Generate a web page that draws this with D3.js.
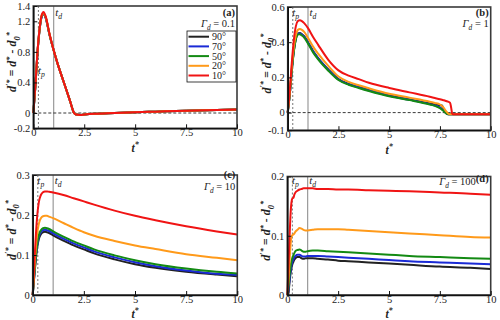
<!DOCTYPE html>
<html>
<head>
<meta charset="utf-8">
<script src="https://cdn.jsdelivr.net/npm/d3@7"></script>
<style>
body { margin: 0; background: #fff; }
svg text { font-family: "Liberation Serif", "DejaVu Serif", serif; fill: #222; }
</style>
</head>
<body>
<div id="chart"></div>
<script>
// series order: 90, 70, 50, 20, 10 degrees
var angleLabels = ["90°", "70°", "50°", "20°", "10°"];
var colors = ["#222222", "#1a2ad6", "#138a13", "#ff9a1a", "#f01414"];
var xTicks = [0, 2.5, 5, 7.5, 10];

// panel (a), Gamma_d = 0.1
var tA = [0, 0.1, 0.2, 0.3, 0.4, 0.5, 0.6, 0.8, 1.0, 1.2, 1.4, 1.6, 1.8, 2.0, 2.1, 2.3, 2.5, 3, 4, 5, 6, 7.5, 9, 10];
var a90 = [0, 0.34, 0.77, 1.07, 1.25, 1.30, 1.25, 1.02, 0.82, 0.64, 0.48, 0.32, 0.16, 0.0, -0.02, -0.025, -0.02, -0.01, 0.0, 0.01, 0.018, 0.03, 0.04, 0.045];
var a70 = [0, 0.34, 0.77, 1.07, 1.25, 1.30, 1.25, 1.02, 0.82, 0.64, 0.48, 0.32, 0.16, 0.0, -0.02, -0.025, -0.02, -0.01, 0.0, 0.01, 0.018, 0.03, 0.04, 0.045];
var a50 = [0, 0.34, 0.77, 1.07, 1.26, 1.30, 1.26, 1.02, 0.82, 0.64, 0.48, 0.32, 0.16, 0.0, -0.02, -0.025, -0.02, -0.01, 0.0, 0.01, 0.018, 0.03, 0.04, 0.045];
var a20 = [0, 0.35, 0.78, 1.08, 1.27, 1.31, 1.26, 1.03, 0.82, 0.64, 0.48, 0.32, 0.16, 0.0, -0.02, -0.025, -0.02, -0.01, 0.0, 0.01, 0.018, 0.03, 0.04, 0.045];
var a10 = [0, 0.35, 0.78, 1.08, 1.27, 1.32, 1.27, 1.03, 0.82, 0.64, 0.48, 0.32, 0.16, 0.0, -0.02, -0.025, -0.02, -0.01, 0.0, 0.01, 0.018, 0.03, 0.04, 0.045];
var yTicksA = [-0.2, 0, 0.4, 0.8, 1.2, 1.4];

// panel (b), Gamma_d = 1
var tB = [0, 0.1, 0.2, 0.3, 0.4, 0.5, 0.6, 0.7, 0.8, 1.0, 1.25, 1.5, 2, 2.5, 3, 3.5, 4, 5, 6, 7, 7.25, 7.5, 7.6, 7.7, 7.8, 7.9, 8.0, 8.05, 8.1, 8.15, 8.5, 10];
var b90 = [0, 0.10, 0.24, 0.35, 0.42, 0.45, 0.452, 0.445, 0.435, 0.40, 0.35, 0.31, 0.245, 0.19, 0.163, 0.145, 0.128, 0.097, 0.075, 0.052, 0.046, 0.042, 0.04, 0.012, -0.004, -0.01, -0.01, -0.01, -0.01, -0.01, -0.01, -0.01];
var b70 = [0, 0.10, 0.24, 0.35, 0.42, 0.448, 0.45, 0.443, 0.433, 0.398, 0.348, 0.308, 0.243, 0.188, 0.161, 0.143, 0.126, 0.095, 0.073, 0.048, 0.04, 0.03, 0.022, 0.01, 0.0, -0.008, -0.01, -0.01, -0.01, -0.01, -0.01, -0.01];
var b50 = [0, 0.10, 0.235, 0.345, 0.415, 0.443, 0.445, 0.438, 0.428, 0.392, 0.342, 0.302, 0.238, 0.185, 0.158, 0.14, 0.123, 0.093, 0.071, 0.046, 0.038, 0.025, 0.017, 0.007, -0.003, -0.009, -0.01, -0.01, -0.01, -0.01, -0.01, -0.01];
var b20 = [0, 0.11, 0.26, 0.37, 0.44, 0.47, 0.475, 0.47, 0.46, 0.425, 0.375, 0.335, 0.265, 0.205, 0.175, 0.155, 0.138, 0.107, 0.085, 0.062, 0.055, 0.046, 0.038, 0.025, 0.008, -0.005, -0.01, -0.01, -0.01, -0.01, -0.01, -0.01];
var b10 = [0, 0.12, 0.28, 0.41, 0.49, 0.52, 0.525, 0.52, 0.51, 0.48, 0.43, 0.385, 0.30, 0.24, 0.21, 0.19, 0.17, 0.14, 0.115, 0.09, 0.083, 0.076, 0.073, 0.07, 0.066, 0.062, 0.055, 0.03, -0.005, -0.01, -0.01, -0.01];
var yTicksB = [-0.1, 0, 0.2, 0.4, 0.6];

// panel (c), Gamma_d = 10
var tC = [0, 0.1, 0.2, 0.3, 0.4, 0.5, 0.6, 0.7, 0.8, 1.0, 1.5, 2, 2.5, 3, 4, 5, 6, 7.5, 9, 10];
var c90 = [0, 0.06, 0.112, 0.14, 0.152, 0.157, 0.158, 0.157, 0.155, 0.149, 0.136, 0.124, 0.114, 0.104, 0.089, 0.077, 0.068, 0.058, 0.051, 0.047];
var c70 = [0, 0.063, 0.116, 0.145, 0.157, 0.162, 0.163, 0.162, 0.16, 0.154, 0.141, 0.129, 0.119, 0.109, 0.094, 0.082, 0.072, 0.061, 0.053, 0.05];
var c50 = [0, 0.065, 0.12, 0.15, 0.162, 0.167, 0.168, 0.167, 0.165, 0.159, 0.146, 0.134, 0.124, 0.114, 0.099, 0.087, 0.077, 0.066, 0.058, 0.054];
var c20 = [0, 0.08, 0.145, 0.178, 0.192, 0.197, 0.198, 0.198, 0.196, 0.192, 0.18, 0.168, 0.157, 0.148, 0.135, 0.124, 0.115, 0.102, 0.093, 0.087];
var c10 = [0, 0.10, 0.185, 0.232, 0.25, 0.257, 0.259, 0.259, 0.258, 0.256, 0.25, 0.242, 0.234, 0.226, 0.211, 0.198, 0.187, 0.172, 0.159, 0.151];
var yTicksC = [0, 0.1, 0.2, 0.3];

// panel (d), Gamma_d = 100
var tD = [0, 0.05, 0.1, 0.15, 0.2, 0.25, 0.3, 0.35, 0.4, 0.5, 0.6, 0.7, 0.8, 0.9, 1.0, 1.25, 1.5, 2, 2.5, 3, 4, 5, 6, 7.5, 9, 10];
var d90 = [0, 0.0, 0.018, 0.034, 0.045, 0.052, 0.056, 0.06, 0.062, 0.064, 0.064, 0.062, 0.061, 0.062, 0.062, 0.062, 0.061, 0.06, 0.058, 0.057, 0.055, 0.053, 0.051, 0.048, 0.046, 0.044];
var d70 = [0, 0.005, 0.022, 0.038, 0.049, 0.056, 0.06, 0.064, 0.066, 0.068, 0.068, 0.066, 0.065, 0.065, 0.066, 0.066, 0.066, 0.065, 0.064, 0.063, 0.061, 0.059, 0.057, 0.055, 0.053, 0.052];
var d50 = [0, 0.01, 0.03, 0.045, 0.056, 0.063, 0.067, 0.071, 0.074, 0.076, 0.077, 0.075, 0.073, 0.073, 0.074, 0.075, 0.075, 0.074, 0.073, 0.072, 0.07, 0.068, 0.066, 0.064, 0.062, 0.061];
var d20 = [0, 0.02, 0.05, 0.08, 0.098, 0.101, 0.102, 0.104, 0.107, 0.11, 0.113, 0.112, 0.11, 0.109, 0.109, 0.11, 0.111, 0.111, 0.111, 0.11, 0.108, 0.106, 0.104, 0.101, 0.098, 0.097];
var d10 = [0, 0.04, 0.09, 0.13, 0.155, 0.163, 0.164, 0.17, 0.173, 0.176, 0.178, 0.179, 0.18, 0.18, 0.18, 0.18, 0.179, 0.179, 0.178, 0.178, 0.177, 0.176, 0.175, 0.173, 0.171, 0.169];
var yTicksD = [0, 0.1, 0.2];

var tp = 0.25, td = 1;

var svg = d3.select("#chart").append("svg")
    .attr("width", 500)
    .attr("height", 320)
    .attr("font-family", "Liberation Serif");

svg.append("rect").attr("width", 500).attr("height", 320).attr("fill", "#fff");

// write text with super/subscripts: parts = [str, pos(1 sup, -1 sub, 0 normal), italic]
function rich(txt, parts, fs) {
    var shift = 0;
    parts.forEach(function(p) {
        var target = p[1] == 1 ? -fs * 0.4 : p[1] == -1 ? fs * 0.3 : 0;
        txt.append("tspan")
            .attr("dy", target - shift)
            .attr("font-size", p[1] ? fs * 0.7 : fs)
            .attr("font-style", p[2] ? "italic" : "normal")
            .text(p[0]);
        shift = target;
    });
}

// layout of the four panels (pixel boxes) and where their labels sit
var panels = [
    { tag: "(a)", gam: "0.1", x0: 33.3, x1: 237, y0: 6, y1: 128.3, dom: [-0.2, 1.4], ticks: yTicksA,
      t: tA, s: [a90, a70, a50, a20, a10], zero: true, legend: true, tpY: 74, tdY: 16, lblY: 15.5, gamY: 26.5, xlabY: 152 },
    { tag: "(b)", gam: "1", x0: 287.7, x1: 490.7, y0: 7, y1: 130.2, dom: [-0.1, 0.6], ticks: yTicksB,
      t: tB, s: [b90, b70, b50, b20, b10], zero: true, tpY: 16, tdY: 16, lblY: 15.5, gamY: 27, xlabY: 154 },
    { tag: "(c)", gam: "10", x0: 32.7, x1: 237.3, y0: 175, y1: 295, dom: [0, 0.3], ticks: yTicksC,
      t: tC, s: [c90, c70, c50, c20, c10], tpY: 184, tdY: 184, lblY: 178, gamY: 190, xlabY: 317.5 },
    { tag: "(d)", gam: "100", x0: 287.3, x1: 490.7, y0: 176.5, y1: 295, dom: [0, 0.2], ticks: yTicksD,
      t: tD, s: [d90, d70, d50, d20, d10], tpY: 184, tdY: 184, lblY: 185, xlabY: 317.5, inline: true }
];

panels.forEach(function(p) {
    var x = d3.scaleLinear().domain([0, 10]).range([p.x0, p.x1]);
    var y = d3.scaleLinear().domain(p.dom).range([p.y1, p.y0]);
    var g = svg.append("g");

    //reference lines
    g.append("line")
        .attr("x1", x(td)).attr("x2", x(td))
        .attr("y1", p.y0).attr("y2", p.y1)
        .attr("stroke", "#9a9a9a").attr("stroke-width", 1.2);
    g.append("line")
        .attr("x1", x(tp)).attr("x2", x(tp))
        .attr("y1", p.y0).attr("y2", p.y1)
        .attr("stroke", "#777").attr("stroke-width", 1)
        .attr("stroke-dasharray", "2,2");
    if (p.zero) {
        g.append("line")
            .attr("x1", p.x0).attr("x2", p.x1)
            .attr("y1", y(0)).attr("y2", y(0))
            .attr("stroke", "#222").attr("stroke-width", 0.9)
            .attr("stroke-dasharray", "3,2");
    }

    var line = d3.line()
        .x(function(d) { return x(d[0]); })
        .y(function(d) { return y(d[1]); })
        .curve(d3.curveMonotoneX);

    p.s.forEach(function(vals, i) {
        g.append("path")
            .datum(p.t.map(function(t, k) { return [t, vals[k]]; }))
            .attr("d", line)
            .attr("fill", "none")
            .attr("stroke", colors[i])
            .attr("stroke-width", 2);
    });

    //frame
    g.append("rect")
        .attr("x", p.x0).attr("y", p.y0)
        .attr("width", p.x1 - p.x0).attr("height", p.y1 - p.y0)
        .attr("fill", "none").attr("stroke", "#3a3a3a").attr("stroke-width", 1.6);

    var fmt = function(d) { return String(d); };
    var ax = g.append("g")
        .attr("transform", "translate(0," + p.y1 + ")")
        .call(d3.axisBottom(x).tickValues(xTicks).tickFormat(fmt).tickSizeInner(-4).tickSizeOuter(0).tickPadding(0.5));
    var ay = g.append("g")
        .attr("transform", "translate(" + p.x0 + ",0)")
        .call(d3.axisLeft(y).tickValues(p.ticks).tickFormat(fmt).tickSizeInner(-4).tickSizeOuter(0).tickPadding(3));
    [ax, ay].forEach(function(a) {
        a.attr("font-family", "Liberation Serif");
        a.select(".domain").attr("stroke", "#111").attr("stroke-width", 1.6);
        a.selectAll(".tick line").attr("stroke", "#111");
        a.selectAll("text").attr("font-size", 10.5).attr("fill", "#222");
    });

    //axis titles
    var cx = (p.x0 + p.x1) / 2;
    var xt = g.append("text")
        .attr("x", cx).attr("y", p.xlabY)
        .attr("text-anchor", "middle")
        .attr("font-weight", "bold");
    rich(xt, [["t", 0, 1], ["*", 1, 1]], 11.5);

    var cy = (p.y0 + p.y1) / 2 - 5;
    var yt = g.append("text")
        .attr("transform", "translate(" + (p.x0 - 17) + "," + cy + ") rotate(-90)")
        .attr("text-anchor", "middle")
        .attr("font-weight", "bold");
    rich(yt, [["d", 0, 1], ["′*", 1, 1], [" = d", 0, 1], ["*", 1, 1], [" - d", 0, 1], ["0", -1, 1], ["*", 1, 1]], 12);

    //tp and td labels
    var tpl = g.append("text").attr("x", x(tp) - 0.5).attr("y", p.tpY).attr("fill", "#444");
    rich(tpl, [["t", 0, 1], ["p", -1, 1]], 11);
    var tdl = g.append("text").attr("x", x(td) + 1.5).attr("y", p.tdY).attr("fill", "#444");
    rich(tdl, [["t", 0, 1], ["d", -1, 1]], 11);

    //panel tag and gamma
    if (p.inline) {
        var gl = g.append("text").attr("x", p.x1 - 2).attr("y", p.lblY).attr("text-anchor", "end");
        rich(gl, [["Γ", 0, 1], ["d", -1, 1], [" = 100", 0, 0]], 10.5);
        gl.append("tspan").attr("dy", -3.15).attr("font-weight", "bold").attr("font-size", 10.5).text("(d)");
    } else {
        g.append("text").attr("x", p.x1 - 2).attr("y", p.lblY)
            .attr("text-anchor", "end").attr("font-weight", "bold").attr("font-size", 10.5)
            .text(p.tag);
        var gl2 = g.append("text").attr("x", p.x1 - 2).attr("y", p.gamY).attr("text-anchor", "end");
        rich(gl2, [["Γ", 0, 1], ["d", -1, 1], [" = " + p.gam, 0, 0]], 10.5);
    }

    if (p.legend) {
        var lg = g.append("g").attr("transform", "translate(187,31)");
        lg.append("rect").attr("width", 49).attr("height", 51)
            .attr("fill", "#fff").attr("stroke", "#111").attr("stroke-width", 0.8);
        angleLabels.forEach(function(lab, i) {
            var yy = 5.7 + i * 9.7;
            lg.append("line").attr("x1", 1.5).attr("x2", 22).attr("y1", yy).attr("y2", yy)
                .attr("stroke", colors[i]).attr("stroke-width", 2);
            lg.append("text").attr("x", 25).attr("y", yy + 3.5)
                .attr("font-size", 10).text(lab);
        });
    }
});
</script>
</body>
</html>
